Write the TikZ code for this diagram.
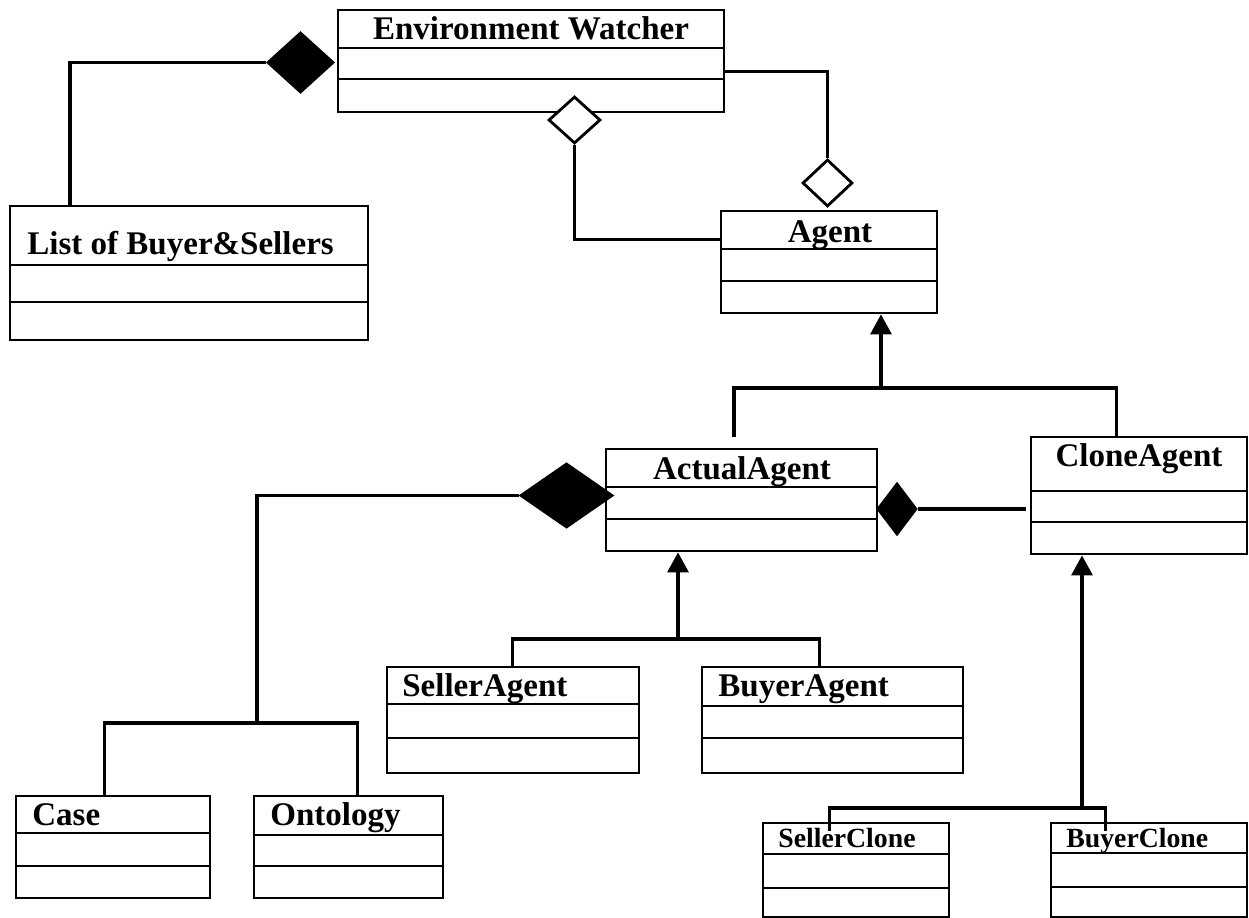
\documentclass[tikz,border=0pt]{standalone}
\usepackage{fontspec}
\setmainfont{Liberation Serif}
\usetikzlibrary{shapes.geometric,arrows.meta,calc,fit}

% UML class: name, x1, y1, x2, y2, first divider y, second divider y
\newcommand\umlclass[7]{%
  \node[classbox,fit={(#2,#3) (#4,#5)}] (#1) {};
  \draw[compart] (#2,#6) -- (#4,#6) (#2,#7) -- (#4,#7);
}

\begin{document}
\begin{tikzpicture}[x=0.02cm,y=-0.02cm,
  classbox/.style={draw,line width=1.6pt,inner sep=0pt},
  compart/.style={line width=1.6pt},
  conn/.style={line width=1.8pt},
  inh/.style={conn,-{Triangle[length=0.40cm,width=0.42cm]}},
  title/.style={inner sep=0pt,font=\bfseries\fontsize{18.8}{21}\selectfont},
  smalltitle/.style={inner sep=0pt,font=\bfseries\fontsize{15.8}{18}\selectfont},
  solidjoin/.style={shape=diamond,draw,line width=1.6pt,fill=black,inner sep=0pt},
  hollowjoin/.style={shape=diamond,draw,line width=1.6pt,fill=white,inner sep=0pt},
]
\useasboundingbox (0,0) rectangle (1249,918);

% class boxes
\umlclass{env}{338}{10}{724}{112}{48}{79}
\umlclass{list}{10}{206}{368}{340}{265}{302}
\umlclass{agent}{721}{211}{937}{313}{249}{281}
\umlclass{actual}{606}{449}{877}{551}{487}{519}
\umlclass{clone}{1031}{437}{1247}{554}{491}{522}
\umlclass{seller}{387}{667}{639}{773}{704}{738}
\umlclass{buyer}{702}{667}{963}{773}{706}{738}
\umlclass{case}{16}{796}{210}{898}{833}{866}
\umlclass{ontology}{254}{796}{443}{898}{835}{866}
\umlclass{sclone}{763}{823}{949}{917}{854}{888}
\umlclass{bclone}{1051}{823}{1247}{917}{853}{887}

% association end markers
\node[solidjoin,minimum width=1.32cm,minimum height=1.20cm] (d1) at (300.5,62.5) {};
\node[hollowjoin,minimum width=1.04cm,minimum height=0.94cm] (d2) at (574.5,120) {};
\node[hollowjoin,minimum width=1.00cm,minimum height=0.94cm] (d3) at (827.5,183) {};
\node[solidjoin,minimum width=1.84cm,minimum height=1.28cm] (d4) at (566.5,495.5) {};
\node[solidjoin,minimum width=0.78cm,minimum height=1.02cm] (d5) at (897,509) {};

% Environment Watcher relations
\coordinate (jL) at (70,62);
\draw[conn] (d1.west) -| (list.north -| jL);
\draw[conn] (d2.south) |- ($(agent.north west)+(0,30)$);
\draw[conn] ($(env.north east)+(0,63)$) -| (d3.north);

% Agent generalisation
\coordinate (gA) at (881,388);
\coordinate (aStub) at (734,437);
\draw[inh] (gA) -- (gA |- agent.south);
\draw[conn] (aStub) |- (gA) -| ($(clone.north west)+(87,0)$);

% ActualAgent parts
\coordinate (jC) at (257,723);
\draw[conn] (d4.west) -| (jC);
\draw[conn] ($(case.north west)+(90,0)$) |- (jC) -| ($(ontology.north west)+(105,0)$);
\draw[conn] (d5.east) -- ($(clone.west |- d5.east)+(-4,0)$);

% ActualAgent generalisation
\coordinate (gB) at (678,639);
\draw[inh] (gB) -- (gB |- actual.south);
\draw[conn] ($(seller.north west)+(127,0)$) |- (gB) -| ($(buyer.north west)+(119,0)$);

% CloneAgent generalisation
\coordinate (gC) at (1082,808);
\draw[inh] (gC) -- (gC |- clone.south);
\draw[conn] ($(sclone.north west)+(68,9)$) |- (gC) -| ($(bclone.north west)+(56,9)$);

% class names
\node[title,anchor=base] (env-t) at (531,40) {Environment Watcher};
\node[title,anchor=base west] (list-t) at (27,255) {List of Buyer\&Sellers};
\node[title,anchor=base] (agent-t) at (830,243) {Agent};
\node[title,anchor=base] (actual-t) at (742,480) {ActualAgent};
\node[title,anchor=base] (clone-t) at (1139,467) {CloneAgent};
\node[title,anchor=base west] (seller-t) at (402,697) {SellerAgent};
\node[title,anchor=base west] (buyer-t) at (718,697) {BuyerAgent};
\node[title,anchor=base west] (case-t) at (32,826) {Case};
\node[title,anchor=base west] (onto-t) at (270,826) {Ontology};
\node[smalltitle,anchor=base west] (sclone-t) at (778,848) {SellerClone};
\node[smalltitle,anchor=base west] (bclone-t) at (1066,848) {BuyerClone};
\end{tikzpicture}
\end{document}
